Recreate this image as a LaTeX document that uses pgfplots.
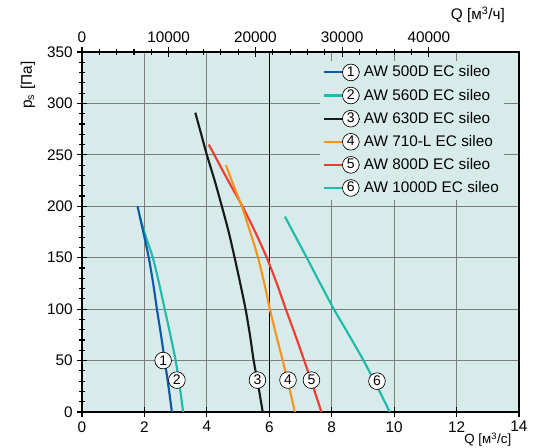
\documentclass[border=0pt]{standalone}
\usepackage{fontspec}
\setmainfont{Liberation Sans}
\usepackage{pgfplots}
\pgfplotsset{compat=1.18}
\definecolor{bgc}{RGB}{215,236,234}
\definecolor{c1}{RGB}{14,90,168}
\definecolor{c2}{RGB}{32,186,170}
\definecolor{c3}{RGB}{26,26,26}
\definecolor{c4}{RGB}{247,148,30}
\definecolor{c5}{RGB}{238,60,50}
\definecolor{gridc}{RGB}{125,125,125}
\tikzset{numc/.style={circle, draw=black, fill=white, text=black, line width=0.5pt, inner sep=0pt, minimum size=12.5pt, font=\fontsize{10.5}{10.5}\selectfont}}
\pgfplotsset{circleg/.style={legend image code/.code={\draw[##1] (0pt,0pt) -- (27pt,0pt); \node[numc] at (13.5pt,0pt) {#1};}}}
\begin{document}
\begin{tikzpicture}
\begin{axis}[
 name=main,
 scale only axis, width=327.75pt, height=270pt,
 xmin=0, xmax=14, ymin=0, ymax=350,
 xtick={0,2,4,8,10,12,14},
 extra x ticks={6},
 extra x tick style={grid=major, major grid style={black, line width=0.9pt}},
 ytick={0,50,...,350},
 minor x tick num=3, minor y tick num=4,
 xtick pos=bottom, ytick pos=left,
 tick align=center,
 major tick length=7pt, minor tick length=4pt,
 every tick/.style={black, line width=0.8pt},
 grid=major,
 major grid style={gridc, line width=0.9pt},
 axis line style={line width=1.4pt},
 axis background/.style={fill=bgc},
 ticklabel style={font=\fontsize{11.5}{13}\selectfont},
 /pgf/number format/assume math mode=true,
 xlabel={Q [м\textsuperscript{3}/с]},
 xlabel style={at={(rel axis cs:0.9286,-0.0889)}, anchor=base, inner sep=0pt, font=\fontsize{10}{12}\selectfont},
 ylabel={p\textsubscript{s} [Па]},
 ylabel style={at={(rel axis cs:-0.124,0.908)}, anchor=center, font=\fontsize{11.5}{13}\selectfont},
 legend style={at={(rel axis cs:0.545,0.977)}, anchor=north west, fill=bgc, draw=none,
   font=\fontsize{11.5}{13}\selectfont, row sep=3.5pt, inner sep=2pt, nodes={inner sep=2pt}},
 legend cell align=left,
 reverse legend,
]
\addplot[c2, line width=1.6pt, smooth, circleg=6] coordinates {(6.5,190) (6.85,170) (7.2,150) (7.63,125) (8.07,100) (8.55,75) (9.02,50) (9.45,25) (9.86,0)};
\addlegendentry{AW 1000D EC sileo}
\addplot[c5, line width=1.6pt, smooth, circleg=5] coordinates {(4.06,260) (4.24,250) (4.68,225) (5.14,200) (5.55,175) (5.92,150) (6.24,125) (6.53,100) (6.83,75) (7.12,50) (7.4,25) (7.67,0)};
\addlegendentry{AW 800D EC sileo}
\addplot[c4, line width=1.6pt, smooth, circleg=4] coordinates {(4.61,240) (4.86,220) (5.12,200) (5.39,175) (5.64,150) (5.84,125) (6.02,100) (6.22,75) (6.43,50) (6.63,25) (6.82,0)};
\addlegendentry{AW 710-L EC sileo}
\addplot[c3, line width=1.6pt, smooth, circleg=3] coordinates {(3.63,291) (3.82,270) (4.0,250) (4.25,225) (4.48,200) (4.70,175) (4.89,150) (5.07,125) (5.24,100) (5.38,75) (5.5,50) (5.65,25) (5.79,0)};
\addlegendentry{AW 630D EC sileo}
\addplot[c2, line width=1.6pt, smooth, circleg=2] coordinates {(1.85,190) (2.05,170) (2.27,150) (2.47,125) (2.65,100) (2.83,75) (3.0,50) (3.13,25) (3.24,0)};
\addlegendentry{AW 560D EC sileo}
\addplot[c1, line width=1.6pt, smooth, circleg=1] coordinates {(1.78,200) (2.0,170) (2.14,150) (2.28,125) (2.40,100) (2.53,75) (2.65,50) (2.77,25) (2.88,0)};
\addlegendentry{AW 500D EC sileo}
\node[numc] at (axis cs:2.6,50) {1};
\node[numc] at (axis cs:3.04,31) {2};
\node[numc] at (axis cs:5.62,31) {3};
\node[numc] at (axis cs:6.6,31) {4};
\node[numc] at (axis cs:7.35,31) {5};
\node[numc] at (axis cs:9.45,30) {6};
\end{axis}
\begin{axis}[
 scale only axis, width=327.75pt, height=270pt,
 xmin=0, xmax=50400, ymin=0, ymax=350,
 axis x line*=top, axis y line=none,
 xtick={0,10000,20000,30000,40000}, minor x tick num=4,
 tick align=center,
 major tick length=7pt, minor tick length=4pt,
 every tick/.style={black, line width=0.8pt},
 axis line style={line width=1.4pt},
 scaled x ticks=false,
 ticklabel style={font=\fontsize{11.5}{13}\selectfont},
 /pgf/number format/assume math mode=true,
 xticklabel style={/pgf/number format/1000 sep={}},
 xlabel={Q [м\textsuperscript{3}/ч]},
 xlabel style={at={(rel axis cs:0.906,1.103)}, anchor=center, font=\fontsize{11.5}{13}\selectfont},
]
\addplot[draw=none, forget plot] coordinates {(0,0)};
\end{axis}
\pgfresetboundingbox
\path[use as bounding box] ([xshift=-61.5pt,yshift=-27pt]main.south west) rectangle ([xshift=12.75pt,yshift=39pt]main.north east);
\end{tikzpicture}
\end{document}
